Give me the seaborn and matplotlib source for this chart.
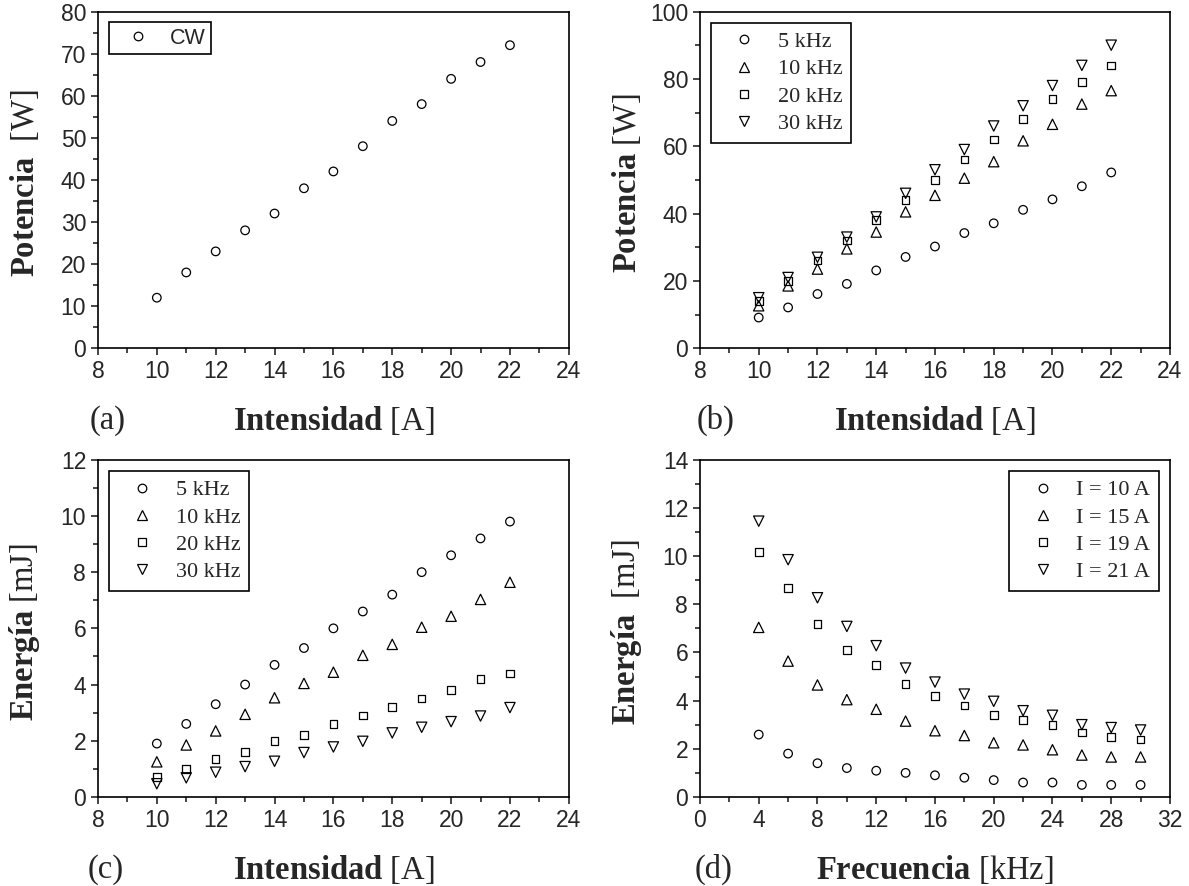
import pandas as pd
import seaborn as sns
import matplotlib.pyplot as plt
from matplotlib.ticker import MultipleLocator

# --- data ---
corriente = [10, 11, 12, 13, 14, 15, 16, 17, 18, 19, 20, 21, 22]

# (a) continuous wave power
potencia_cw = [12, 18, 23, 28, 32, 38, 42, 48, 54, 58, 64, 68, 72]

# (b) pulsed power per repetition rate
frecuencias = ['5 kHz', '10 kHz', '20 kHz', '30 kHz']
potencia_5k = [9.1, 12.1, 16.1, 19.1, 23.1, 27.1, 30.2, 34.2, 37.1, 41.1, 44.2, 48.1, 52.2]
potencia_10k = [12.6, 18.5, 23.5, 29.5, 34.5, 40.5, 45.4, 50.5, 55.4, 61.6, 66.5, 72.5, 76.5]
potencia_20k = [14, 20, 26, 32, 38, 44, 50, 56, 62, 68, 74, 79, 84]
potencia_30k = [15, 21, 27, 33, 39, 46, 53, 59, 66, 72, 78, 84, 90]

# (c) pulse energy per repetition rate
energia_5k = [1.9, 2.6, 3.3, 4.0, 4.7, 5.3, 6.0, 6.6, 7.2, 8.0, 8.6, 9.2, 9.8]
energia_10k = [1.25, 1.85, 2.35, 2.94, 3.53, 4.04, 4.44, 5.04, 5.43, 6.04, 6.43, 7.03, 7.64]
energia_20k = [0.72, 1.0, 1.35, 1.6, 2.0, 2.2, 2.6, 2.9, 3.2, 3.5, 3.8, 4.2, 4.4]
energia_30k = [0.47, 0.68, 0.88, 1.08, 1.27, 1.58, 1.78, 1.98, 2.28, 2.48, 2.68, 2.88, 3.18]

# (d) pulse energy vs frequency per current
frecuencia = [4, 6, 8, 10, 12, 14, 16, 18, 20, 22, 24, 26, 28, 30]
corrientes = ['I = 10 A', 'I = 15 A', 'I = 19 A', 'I = 21 A']
energia_i10 = [2.59, 1.8, 1.4, 1.2, 1.09, 1.0, 0.9, 0.8, 0.7, 0.6, 0.6, 0.5, 0.5, 0.5]
energia_i15 = [7.04, 5.64, 4.65, 4.04, 3.64, 3.15, 2.75, 2.55, 2.25, 2.16, 1.96, 1.74, 1.66, 1.66]
energia_i19 = [10.18, 8.67, 7.19, 6.09, 5.49, 4.70, 4.19, 3.79, 3.39, 3.19, 3.0, 2.68, 2.49, 2.39]
energia_i21 = [11.45, 9.85, 8.27, 7.08, 6.28, 5.35, 4.77, 4.27, 3.97, 3.58, 3.39, 3.0, 2.88, 2.78]


def long_form(x, series, names):
    frames = [pd.DataFrame({'x': x, 'y': vals, 'serie': name}) for vals, name in zip(series, names)]
    return pd.concat(frames, ignore_index=True)


sns.set_style('ticks')
plt.rcParams['font.family'] = ['Liberation Sans', 'DejaVu Sans']
plt.rcParams['mathtext.fontset'] = 'custom'
plt.rcParams['mathtext.rm'] = 'Liberation Serif'
plt.rcParams['mathtext.bf'] = 'Liberation Serif:bold'
plt.rcParams['mathtext.it'] = 'Liberation Serif:italic'

SHAPES = ['o', '^', 's', 'v']
SIZES = [38, 55, 30, 55]

fig = plt.figure(figsize=(11.89, 8.86), dpi=100)
pos = {
    'a': [0.0824, 0.607, 0.396, 0.380],
    'b': [0.5887, 0.607, 0.3953, 0.380],
    'c': [0.0824, 0.1005, 0.396, 0.3806],
    'd': [0.5887, 0.1005, 0.3953, 0.3806],
}

panels = [
    ('a', long_form(corriente, [potencia_cw], ['CW']), ['CW'],
     (8, 24), 2, 1, (0, 80), 10, 5,
     r'$\mathbf{Intensidad}$ [A]', r'$\mathbf{Potencia}$  [W]', 'upper left', 0.020, 'sans'),
    ('b', long_form(corriente, [potencia_5k, potencia_10k, potencia_20k, potencia_30k], frecuencias),
     frecuencias, (8, 24), 2, 1, (0, 100), 20, 10,
     r'$\mathbf{Intensidad}$ [A]', r'$\mathbf{Potencia}$ [W]', 'upper left', 0.034, 'serif'),
    ('c', long_form(corriente, [energia_5k, energia_10k, energia_20k, energia_30k], frecuencias),
     frecuencias, (8, 24), 2, 1, (0, 12), 2, 1,
     r'$\mathbf{Intensidad}$ [A]', r'$\mathbf{Energía}$ [mJ]', 'upper left', 0.017, 'serif'),
    ('d', long_form(frecuencia, [energia_i10, energia_i15, energia_i19, energia_i21], corrientes),
     corrientes, (0, 32), 4, 2, (0, 14), 2, 1,
     r'$\mathbf{Frecuencia}$ [kHz]', r'$\mathbf{Energía}$  [mJ]', 'upper right', 0.028, 'serif'),
]

for key, df, names, xlim, xmaj, xmin, ylim, ymaj, ymin, xlab, ylab, loc, tag_x, leg_font in panels:
    ax = fig.add_axes(pos[key])
    markers = dict(zip(names, SHAPES))
    sizes = dict(zip(names, SIZES))
    sns.scatterplot(data=df, x='x', y='y', style='serie', size='serie',
                    markers=markers, sizes=sizes, facecolor='none',
                    edgecolor='black', linewidth=0.9, ax=ax)

    ax.set_xlim(*xlim)
    ax.set_ylim(*ylim)
    ax.xaxis.set_major_locator(MultipleLocator(xmaj))
    ax.xaxis.set_minor_locator(MultipleLocator(xmin))
    ax.yaxis.set_major_locator(MultipleLocator(ymaj))
    ax.yaxis.set_minor_locator(MultipleLocator(ymin))
    ax.tick_params(which='major', direction='out', length=5, width=1.2,
                   labelsize=16.5, pad=3.5, top=False, right=False)
    ax.tick_params(which='minor', direction='out', length=3.5, width=1.2,
                   top=False, right=False)
    for sp in ax.spines.values():
        sp.set_visible(True)
        sp.set_linewidth(1.2)
        sp.set_color('black')

    ax.set_xlabel(xlab, fontsize=23.5, family='Liberation Serif')
    ax.xaxis.set_label_coords(0.5, -0.215)
    ax.xaxis.label.set_va('center')
    ax.set_ylabel(ylab, fontsize=23.5, family='Liberation Serif')
    ax.yaxis.set_label_coords(-0.156, 0.49)
    ax.yaxis.label.set_va('center')

    ax.text(tag_x, -0.215, f'({key})', transform=ax.transAxes, ha='center',
            va='center', fontsize=23.5, family='Liberation Serif')

    if leg_font == 'sans':
        prop = {'family': 'Liberation Sans', 'size': 15.5}
        bpad = 0.25
    else:
        prop = {'family': 'Liberation Serif', 'size': 16}
        bpad = 0.4
    sns.move_legend(ax, loc, title=None, frameon=True, fancybox=False,
                    edgecolor='black', framealpha=1, prop=prop,
                    borderpad=bpad, handlelength=2.2, handletextpad=0.4,
                    labelspacing=0.3, borderaxespad=0.5)
    ax.get_legend().get_frame().set_linewidth(1.2)

fig.savefig('out.png', dpi=100)
